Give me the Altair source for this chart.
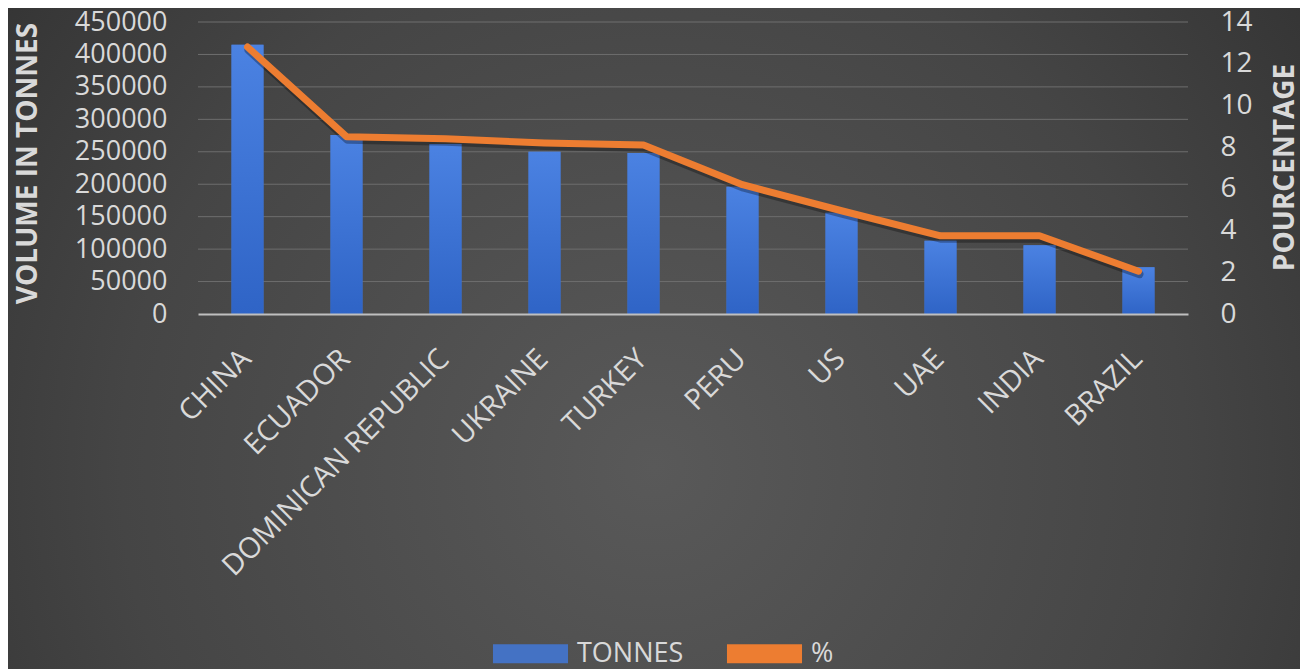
import altair as alt
import pandas as pd

countries = ["CHINA", "ECUADOR", "DOMINICAN REPUBLIC", "UKRAINE", "TURKEY",
             "PERU", "US", "UAE", "INDIA", "BRAZIL"]
tonnes = [415000, 276000, 262000, 250000, 248000, 196000, 156000, 113000, 106000, 72000]
percent = [12.8, 8.5, 8.4, 8.2, 8.1, 6.2, 4.95, 3.75, 3.75, 2.05]
left_ticks = [0, 50000, 100000, 150000, 200000, 250000, 300000, 350000, 400000, 450000]
right_ticks = [0, 2, 4, 6, 8, 10, 12, 14]
series_names = ["TONNES", "%"]
series_colors = ["#4472C4", "#ED7D31"]

df = pd.DataFrame({"country": countries, "tonnes": tonnes, "pct": percent})
grid_df = pd.DataFrame({"tonnes": left_ticks[1:]})

W, H = 990, 292
FONT = "Open Sans"
TXT = "#d9d9d9"

bg_gradient = {
    "gradient": "radial",
    "x1": 0.5, "y1": 0.6, "r1": 0.0,
    "x2": 0.5, "y2": 0.6, "r2": 0.75,
    "stops": [
        {"offset": 0.0, "color": "#595959"},
        {"offset": 0.55, "color": "#454545"},
        {"offset": 1.0, "color": "#2b2b2b"},
    ],
}
bar_gradient = {
    "gradient": "linear",
    "x1": 0, "y1": 0, "x2": 0, "y2": 1,
    "stops": [
        {"offset": 0.0, "color": "#4b82e2"},
        {"offset": 1.0, "color": "#2f64c6"},
    ],
}

base = alt.Chart(df)

x_enc = alt.X(
    "country:N", sort=countries, title=None,
    scale=alt.Scale(paddingInner=0, paddingOuter=0),
    axis=alt.Axis(labelAngle=-45, labelFontSize=29, labelFont=FONT, labelColor=TXT,
                  labelPadding=30, labelOffset=-11, ticks=False, domain=True,
                  domainColor="#bfbfbf", domainWidth=2, grid=False, labelLimit=400,
                  zindex=2),
)

background = base.mark_rect(color=bg_gradient).encode(
    x=alt.value(-190), x2=alt.value(W + 112),
    y=alt.value(-14), y2=alt.value(H + 355),
)

y_scale_left = alt.Scale(domain=[0, 450000], nice=False)
y_axis_left = alt.Axis(
    orient="left", values=left_ticks, format="d", labelFontSize=27,
    labelFont=FONT, labelColor=TXT, labelPadding=31, ticks=False,
    domain=False, grid=False, zindex=2,
    titleFont=FONT, titleFontSize=28, titleFontWeight="bold",
    titleColor=TXT, titleX=-170, titleY=141, titleAngle=270,
    titleBaseline="middle", titleAlign="center",
)
y_left = alt.Y("tonnes:Q", title="VOLUME IN TONNES", scale=y_scale_left, axis=y_axis_left)

gridlines = alt.Chart(grid_df).mark_rule(color="#6e6e6e", strokeWidth=1).encode(
    y=y_left,
    x=alt.value(0), x2=alt.value(W),
)

color_enc = alt.Color(
    "series:N",
    scale=alt.Scale(domain=series_names, range=series_colors),
    legend=alt.Legend(
        title=None, orient="none", legendX=319, legendY=618,
        direction="horizontal",
        symbolType="M-4,-1H4V1H-4Z", symbolSize=352,
        symbolStrokeWidth=0, labelFont=FONT, labelFontSize=27,
        labelColor=TXT, labelOffset=33, columnPadding=42, zindex=2),
)

bars_legend = base.transform_calculate(series="'TONNES'").mark_bar(size=32).encode(
    x=x_enc, y=y_left, color=color_enc,
)
bars = base.mark_bar(size=32, color=bar_gradient).encode(x=x_enc, y=y_left)

y_right = alt.Y(
    "pct:Q", title="POURCENTAGE",
    scale=alt.Scale(domain=[0, 14], nice=False),
    axis=alt.Axis(orient="right", values=right_ticks, labelFontSize=28,
                  labelFont=FONT, labelColor=TXT, labelPadding=32, ticks=False,
                  domain=False, grid=False, zindex=2,
                  titleFont=FONT, titleFontSize=28, titleFontWeight="bold",
                  titleColor=TXT, titleX=97, titleY=145, titleAngle=270,
                  titleBaseline="middle", titleAlign="center"),
)

line_shadow = base.mark_line(
    strokeWidth=8, strokeCap="round", strokeJoin="round",
    color="#000000", opacity=0.3, yOffset=3, xOffset=1,
).encode(x=x_enc, y=y_right)

line = base.transform_calculate(series="'%'").mark_line(
    strokeWidth=7, strokeCap="round", strokeJoin="round"
).encode(x=x_enc, y=y_right, color=color_enc)

chart = alt.layer(
    background,
    alt.layer(gridlines, bars_legend, bars),
    alt.layer(line_shadow, line),
).resolve_scale(y="independent").properties(
    width=W, height=H, padding=0, background="#2b2b2b"
).configure_view(stroke=None)

chart.save("out.html", embed_options={"renderer": "svg", "actions": False})
